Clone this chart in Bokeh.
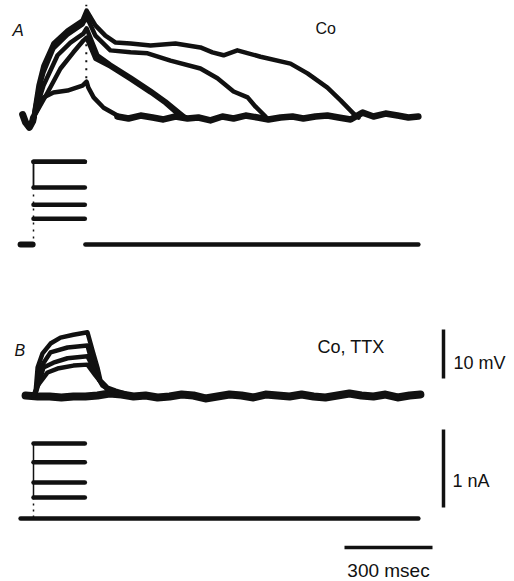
from bokeh.plotting import figure
from bokeh.models import Range1d, Label
from bokeh.embed import file_html
from bokeh.resources import INLINE

# ---------------- data (time in ms, voltage in mV, current in nA) ----------------
# Panel A (Co): membrane potential traces, relative to resting level
A_PRE_T = [-37, -27, -14, -3, 0]
A_PRE_V = [0.6, -1.0, -2.0, -0.8, 0.0]

A1_T = [0, 34, 68, 116, 167, 181, 187, 205, 239, 286]
A1_V = [0, 4.1, 5.1, 5.5, 6.5, 7.3, 6.1, 4.1, 2.0, 0.4]

A2_T = [0, 48, 92, 136, 170, 181, 211, 262, 331, 399, 450, 494, 511]
A2_V = [0, 5.1, 10.0, 13.3, 15.7, 16.3, 12.0, 10.4, 7.8, 5.1, 2.9, 0.6, 0.0]

A3_T = [0, 34, 82, 126, 170, 181, 218, 262, 331, 399, 450, 501, 518]
A3_V = [0, 6.5, 12.7, 15.3, 17.1, 18.2, 12.7, 10.8, 8.2, 5.5, 3.3, 0.8, 0.0]

A4_T = [0, 17, 34, 68, 116, 167, 181, 211, 262, 331, 389, 467, 569, 627, 682, 730, 757, 791]
A4_V = [0, 5.5, 9.2, 14.1, 16.9, 19.0, 20.6, 16.7, 13.7, 13.3, 13.1, 11.6, 10.0, 8.0, 5.3, 4.1, 2.2, 0.2]

A5_T = [0, 17, 34, 68, 116, 167, 181, 211, 245, 280, 331, 399, 484, 569, 610, 648, 695, 774, 876, 934, 1002, 1047, 1091, 1108]
A5_V = [0, 6.5, 10.6, 15.1, 17.8, 19.8, 21.8, 18.8, 16.7, 15.3, 15.1, 14.7, 15.1, 14.3, 13.3, 12.7, 13.7, 12.4, 11.0, 9.0, 6.1, 3.5, 0.8, 0.0]

A_BASE_T = [286, 324, 365, 406, 443, 484, 525, 562, 603, 644, 682, 723, 764, 801, 842, 883,
            920, 961, 1002, 1040, 1081, 1122, 1159, 1200, 1241, 1278, 1312]
A_BASE_V = [0.2, -0.2, 0.4, 0.0, -0.4, 0.2, -0.2, 0.0, -0.6, 0.2, -0.2, 0.4, 0.0, -0.4, 0.0, 0.2,
            -0.2, 0.2, 0.4, 0.0, -0.4, 1.0, 0.2, 0.8, 0.4, 0.0, 0.2]

# Panel A: injected current steps (nA)
A_STEPS_NA = [1.06, 1.06, 0.73, 0.51, 0.33]
STEP_T = [0, 175]
A_IPRE_T = [-44, -3]
A_IPOST_T = [177, 1312]

# Panel B (Co, TTX): membrane potential traces
B1_T = [0, 7, 14, 31, 58, 92, 136, 184, 201, 218, 228, 252, 280, 314]
B1_V = [0, 0.6, 5.7, 8.6, 10.6, 11.8, 12.4, 12.9, 9.2, 5.7, 3.1, 1.6, 1.0, 0.4]

B2_T = [0, 7, 24, 58, 116, 184, 198, 215, 235, 262, 303]
B2_V = [0, 0.4, 5.7, 8.8, 9.8, 10.2, 7.1, 4.1, 2.0, 1.0, 0.4]

B3_T = [0, 10, 34, 68, 116, 184, 205, 225, 249, 283]
B3_V = [0, 1.0, 5.7, 6.7, 7.6, 8.0, 5.5, 3.1, 1.4, 0.6]

B4_T = [0, 14, 48, 82, 136, 184, 211, 239, 269]
B4_V = [0, 2.0, 4.7, 5.5, 6.1, 6.3, 4.1, 2.0, 0.8]

B_BASE_T = [-27, 14, 55, 95, 136, 177, 218, 259, 300, 341, 382, 423, 464, 505, 545, 586, 627,
            668, 709, 750, 791, 832, 873, 914, 955, 995, 1036, 1077, 1118, 1159, 1200, 1241, 1282, 1319]
B_BASE_V = [0.0, -0.2, -0.2, -0.4, -0.2, -0.2, 0.0, 0.4, 0.2, -0.2, 0.0, -0.4, -0.2, 0.2, 0.0, -0.6, -0.2,
            0.2, 0.0, -0.4, 0.2, 0.0, -0.2, 0.2, -0.2, -0.4, 0.0, 0.4, 0.0, -0.2, 0.2, -0.4, 0.0, 0.2]

# Panel B: injected current steps (nA)
B_STEPS_NA = [0.96, 0.72, 0.46, 0.27]
B_IBASE_T = [-44, 1312]

# Calibration bars
BAR_MV = 10
BAR_NA = 1
BAR_MS = 300

LABELS = {"A": "A", "B": "B", "coA": "Co", "coB": "Co, TTX",
          "mv": "10 mV", "na": "1 nA", "ms": "300 msec"}

# ---------------- layout constants (pixels) ----------------
M = 0            # page offset of the canvas
W, H = 514, 581
PX_PER_MS = 88 / 300
PX_PER_MV = 4.9
PX_PER_NA = 78
T0_PX = 33       # page x of t = 0
A_V_PX = 117     # page y of panel A voltage baseline
A_I_PX = 244
B_V_PX = 395
B_I_PX = 518

X0 = -(T0_PX - M) / PX_PER_MS
X1 = X0 + W / PX_PER_MS
Y1 = (A_V_PX - M) / PX_PER_MV
Y0 = Y1 - H / PX_PER_MV
MV_PER_NA = PX_PER_NA / PX_PER_MV


def ypx(py):
    return Y1 - (py - M) / PX_PER_MV


def xpx(px):
    return X0 + (px - M) / PX_PER_MS


OFF_AV, OFF_AI, OFF_BV, OFF_BI = ypx(A_V_PX), ypx(A_I_PX), ypx(B_V_PX), ypx(B_I_PX)

p = figure(width=W, height=H, output_backend="svg", toolbar_location=None,
           x_range=Range1d(X0, X1), y_range=Range1d(Y0, Y1),
           min_border=0, min_border_left=0, min_border_right=0,
           min_border_top=0, min_border_bottom=0)
p.axis.visible = False
p.grid.visible = False
p.outline_line_color = None
p.background_fill_color = "white"

INK = "#111111"
LW = 4.5
kw = dict(line_color=INK, line_join="round", line_cap="round")

# Panel A voltage
p.line(A_PRE_T, [v + OFF_AV for v in A_PRE_V], line_width=7, **kw)
for ts, vs in [(A1_T, A1_V), (A2_T, A2_V), (A3_T, A3_V), (A4_T, A4_V), (A5_T, A5_V)]:
    p.line(ts, [v + OFF_AV for v in vs], line_width=LW, **kw)
p.line(A_BASE_T, [v + OFF_AV for v in A_BASE_V], line_width=6.5, **kw)
# stimulus artefact (dotted) at end of pulse
p.line([STEP_T[1] + 5, STEP_T[1] + 5], [OFF_AV + 8, OFF_AV + 23], line_width=2,
       line_dash="2 6", line_color=INK)

# Panel A current
p.line(A_IPRE_T, [OFF_AI, OFF_AI], line_width=6, **kw)
p.line(A_IPOST_T, [OFF_AI, OFF_AI], line_width=LW, **kw)
for a in A_STEPS_NA:
    p.line(STEP_T, [OFF_AI + a * MV_PER_NA] * 2, line_width=LW, **kw)
p.line([0, 0], [OFF_AI + A_STEPS_NA[0] * MV_PER_NA, OFF_AI + A_STEPS_NA[2] * MV_PER_NA],
       line_width=1.8, line_color=INK)
p.line([0, 0], [OFF_AI + A_STEPS_NA[2] * MV_PER_NA, OFF_AI], line_width=1.5,
       line_dash="2 5", line_color=INK)

# Panel B voltage
p.line(B_BASE_T, [v + OFF_BV for v in B_BASE_V], line_width=8, **kw)
for ts, vs in [(B1_T, B1_V), (B2_T, B2_V), (B3_T, B3_V), (B4_T, B4_V)]:
    p.line(ts, [v + OFF_BV for v in vs], line_width=LW, **kw)

# Panel B current
p.line(B_IBASE_T, [OFF_BI, OFF_BI], line_width=LW, **kw)
for a in B_STEPS_NA:
    p.line(STEP_T, [OFF_BI + a * MV_PER_NA] * 2, line_width=LW, **kw)
p.line([0, 0], [OFF_BI + B_STEPS_NA[0] * MV_PER_NA, OFF_BI + B_STEPS_NA[-1] * MV_PER_NA],
       line_width=1.5, line_color=INK)
p.line([0, 0], [OFF_BI + B_STEPS_NA[-1] * MV_PER_NA, OFF_BI], line_width=1.5,
       line_dash="2 4", line_color=INK)

# Calibration bars
bx = xpx(443)
p.line([bx, bx], [ypx(378), ypx(378) + BAR_MV], line_width=3.5, line_color=INK)
p.line([bx, bx], [ypx(507), ypx(507) + BAR_NA * MV_PER_NA], line_width=3.5, line_color=INK)
tx0 = xpx(344)
p.line([tx0, tx0 + BAR_MS], [ypx(547), ypx(547)], line_width=3.5, line_color=INK)

FONT = "Liberation Sans"


def lab(key, px, py, size, align="left", style="normal"):
    p.add_layout(Label(x=xpx(px), y=ypx(py), text=LABELS[key], text_font=FONT,
                       text_font_size=f"{size}px", text_align=align,
                       text_baseline="alphabetic", text_color=INK,
                       text_font_style=style))


lab("A", 12, 30, 17, style="italic")
lab("B", 14, 350, 16, style="italic")
lab("coA", 315, 28, 16)
lab("coB", 317, 346, 18)
lab("mv", 453, 362, 18)
lab("na", 452, 480, 18)
lab("ms", 388, 570, 19, align="center")

open("out.html", "w").write(file_html(p, INLINE))
